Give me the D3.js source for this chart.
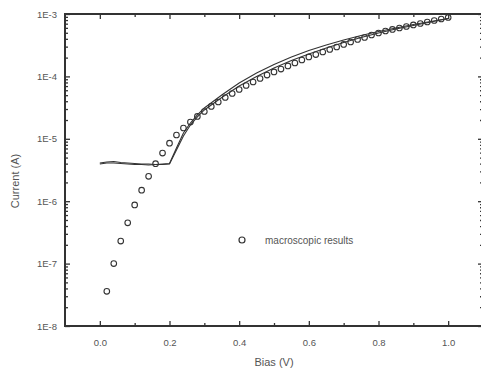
<!DOCTYPE html>
<html>
<head>
<meta charset="utf-8">
<script src="https://cdn.jsdelivr.net/npm/d3@7"></script>
<style>
  body { margin: 0; background: #fff; }
  text { font-family: "Liberation Sans", Arial, sans-serif; fill: #555; }
</style>
</head>
<body>
<div id="chart"></div>
<script>
// measured points (macroscopic results)
var circleBias = [0.02, 0.04, 0.06, 0.08, 0.10, 0.12, 0.14, 0.16, 0.18, 0.20,
  0.22, 0.24, 0.26, 0.28, 0.30, 0.32, 0.34, 0.36, 0.38, 0.40,
  0.42, 0.44, 0.46, 0.48, 0.50, 0.52, 0.54, 0.56, 0.58, 0.60,
  0.62, 0.64, 0.66, 0.68, 0.70, 0.72, 0.74, 0.76, 0.78, 0.80,
  0.82, 0.84, 0.86, 0.88, 0.90, 0.92, 0.94, 0.96, 0.98, 1.00];
var circleCurrent = [3.6e-8, 1.0e-7, 2.3e-7, 4.5e-7, 8.7e-7, 1.5e-6, 2.5e-6, 4.0e-6, 5.9e-6, 8.5e-6,
  1.15e-5, 1.49e-5, 1.86e-5, 2.28e-5, 2.74e-5, 3.30e-5, 3.89e-5, 4.59e-5, 5.32e-5, 6.17e-5,
  7.15e-5, 8.13e-5, 9.25e-5, 1.05e-4, 1.18e-4, 1.31e-4, 1.47e-4, 1.64e-4, 1.83e-4, 2.05e-4,
  2.24e-4, 2.46e-4, 2.70e-4, 2.96e-4, 3.25e-4, 3.56e-4, 3.90e-4, 4.20e-4, 4.61e-4, 4.96e-4,
  5.34e-4, 5.65e-4, 5.97e-4, 6.31e-4, 6.67e-4, 7.04e-4, 7.44e-4, 7.87e-4, 8.32e-4, 8.79e-4];

// simulated curves
var lineBias = [0.00, 0.02, 0.04, 0.06, 0.08, 0.10, 0.12, 0.14, 0.16, 0.18, 0.20,
  0.22, 0.24, 0.26, 0.28, 0.30, 0.35, 0.40, 0.45, 0.50, 0.55,
  0.60, 0.65, 0.70, 0.75, 0.80, 0.85, 0.90, 0.95, 1.00];
var lineUpper = [4.09e-6, 4.25e-6, 4.33e-6, 4.17e-6, 4.09e-6, 4.02e-6, 3.94e-6, 3.94e-6, 3.87e-6, 3.94e-6, 4.02e-6,
  7.13e-6, 1.24e-5, 1.79e-5, 2.41e-5, 3.12e-5, 5.04e-5, 7.84e-5, 1.13e-4, 1.55e-4, 2.05e-4,
  2.60e-4, 3.19e-4, 3.83e-4, 4.52e-4, 5.24e-4, 5.97e-4, 6.79e-4, 7.58e-4, 8.47e-4];
var lineLower = [3.94e-6, 4.09e-6, 4.09e-6, 4.02e-6, 3.94e-6, 3.87e-6, 3.87e-6, 3.80e-6, 3.87e-6, 3.87e-6, 3.94e-6,
  6.62e-6, 1.11e-5, 1.66e-5, 2.24e-5, 2.90e-5, 4.59e-5, 7.02e-5, 9.95e-5, 1.36e-4, 1.80e-4,
  2.29e-4, 2.85e-4, 3.49e-4, 4.20e-4, 4.96e-4, 5.75e-4, 6.55e-4, 7.44e-4, 8.47e-4];

var xMajor = [0.0, 0.2, 0.4, 0.6, 0.8, 1.0];
var xMinor = [0.1, 0.3, 0.5, 0.7, 0.9];
var yMajor = [1e-8, 1e-7, 1e-6, 1e-5, 1e-4, 1e-3];
var legendLabel = "macroscopic results";

var svgWidth = 481;
var svgHeight = 374;
var margin = {top: 14, left: 65};
var chartWidth = 418;
var chartHeight = 312;

var svg = d3.select("#chart").append("svg")
  .attr("width", svgWidth)
  .attr("height", svgHeight);

var chartGroup = svg.append("g")
  .attr("transform", `translate(${margin.left}, ${margin.top})`);

var x = d3.scaleLinear().domain([-0.1, 1.1]).range([0, chartWidth]);
var y = d3.scaleLog().domain([1e-8, 1e-3]).range([chartHeight, 0]);

var yMinor = y.ticks().filter(d => yMajor.indexOf(d) < 0 && Math.abs(Math.log10(d) % 1) > 1e-6);
var yFmt = d => "1E" + Math.round(Math.log10(d));

function styleAxis(g) {
  g.select(".domain").remove();
  g.selectAll(".tick line").attr("stroke", "#333").attr("stroke-width", 1.3);
  g.selectAll(".tick text").attr("font-size", 9.5).attr("fill", "#666");
}

// bottom
chartGroup.append("g").attr("transform", `translate(0,${chartHeight})`)
  .call(d3.axisBottom(x).tickValues(xMajor).tickSize(-5).tickPadding(13).tickFormat(d3.format(".1f")))
  .call(styleAxis);
chartGroup.append("g").attr("transform", `translate(0,${chartHeight})`)
  .call(d3.axisBottom(x).tickValues(xMinor).tickSize(-3).tickFormat(""))
  .call(styleAxis);
// top
chartGroup.append("g")
  .call(d3.axisTop(x).tickValues(xMajor).tickSize(-5).tickFormat(""))
  .call(styleAxis);
chartGroup.append("g")
  .call(d3.axisTop(x).tickValues(xMinor).tickSize(-3).tickFormat(""))
  .call(styleAxis);
// left
chartGroup.append("g")
  .call(d3.axisLeft(y).tickValues(yMajor).tickSize(-5).tickPadding(8).tickFormat(yFmt))
  .call(styleAxis);
chartGroup.append("g")
  .call(d3.axisLeft(y).tickValues(yMinor).tickSize(-3).tickFormat(""))
  .call(styleAxis);
// right
chartGroup.append("g").attr("transform", `translate(${chartWidth},0)`)
  .call(d3.axisRight(y).tickValues(yMajor).tickSize(-5).tickFormat(""))
  .call(styleAxis);
chartGroup.append("g").attr("transform", `translate(${chartWidth},0)`)
  .call(d3.axisRight(y).tickValues(yMinor).tickSize(-3).tickFormat(""))
  .call(styleAxis);

// frame
chartGroup.append("rect")
  .attr("width", chartWidth)
  .attr("height", chartHeight)
  .attr("fill", "none")
  .attr("stroke", "#333")
  .attr("stroke-width", 2);

var line = d3.line()
  .x(d => x(d[0]))
  .y(d => y(d[1]));

[lineUpper, lineLower].forEach(function(vals) {
  chartGroup.append("path")
    .datum(lineBias.map((b, i) => [b, vals[i]]))
    .attr("d", line)
    .attr("fill", "none")
    .attr("stroke", "#333")
    .attr("stroke-width", 1.1);
});

chartGroup.selectAll(".circle")
  .data(circleBias.map((b, i) => [b, circleCurrent[i]]))
  .enter()
  .append("circle")
  .attr("class", "circle")
  .attr("cx", d => x(d[0]))
  .attr("cy", d => y(d[1]))
  .attr("r", 2.8)
  .attr("fill", "none")
  .attr("stroke", "#333")
  .attr("stroke-width", 1.1);

// legend
svg.append("circle")
  .attr("cx", 242).attr("cy", 240).attr("r", 3)
  .attr("fill", "none").attr("stroke", "#333").attr("stroke-width", 1.2);
svg.append("text")
  .attr("x", 265).attr("y", 244)
  .attr("font-size", 10)
  .text(legendLabel);

// axis titles
svg.append("text")
  .attr("x", margin.left + x(0.5) - 0)
  .attr("y", 366)
  .attr("text-anchor", "middle")
  .attr("font-size", 11)
  .text("Bias (V)");

svg.append("text")
  .attr("transform", "translate(19,181) rotate(-90)")
  .attr("text-anchor", "middle")
  .attr("font-size", 11)
  .text("Current (A)");
</script>
</body>
</html>
